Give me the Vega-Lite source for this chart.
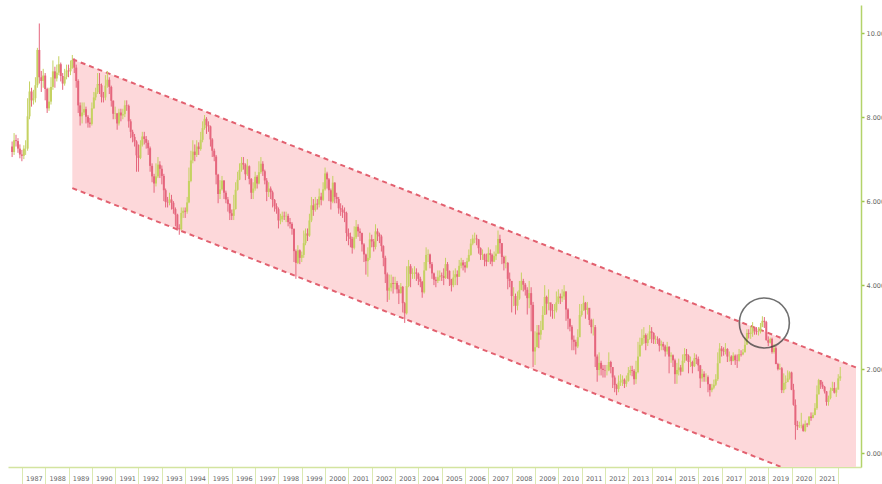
{
  "$schema": "https://vega.github.io/schema/vega-lite/v6.json",
  "width": 853,
  "height": 462,
  "padding": {"left": 8, "top": 5, "right": 21, "bottom": 17},
  "autosize": {"type": "none"},
  "background": "#ffffff",
  "config": {"view": {"stroke": null}, "font": "DejaVu Sans"},
  "datasets": {
    "ohlc": [
      {"d":"1986-08","o":7.30,"h":7.42,"l":7.05,"c":7.17},
      {"d":"1986-09","o":7.17,"h":7.62,"l":7.10,"c":7.45},
      {"d":"1986-10","o":7.45,"h":7.58,"l":7.30,"c":7.43},
      {"d":"1986-11","o":7.43,"h":7.50,"l":7.15,"c":7.25},
      {"d":"1986-12","o":7.25,"h":7.35,"l":7.02,"c":7.11},
      {"d":"1987-01","o":7.11,"h":7.22,"l":6.95,"c":7.08},
      {"d":"1987-02","o":7.08,"h":7.33,"l":7.00,"c":7.25},
      {"d":"1987-03","o":7.25,"h":7.45,"l":7.10,"c":7.25},
      {"d":"1987-04","o":7.25,"h":8.45,"l":7.20,"c":8.02},
      {"d":"1987-05","o":8.02,"h":8.85,"l":7.95,"c":8.61},
      {"d":"1987-06","o":8.61,"h":8.70,"l":8.25,"c":8.40},
      {"d":"1987-07","o":8.40,"h":8.65,"l":8.30,"c":8.45},
      {"d":"1987-08","o":8.45,"h":8.95,"l":8.35,"c":8.76},
      {"d":"1987-09","o":8.76,"h":9.65,"l":8.70,"c":9.60},
      {"d":"1987-10","o":9.60,"h":10.23,"l":8.80,"c":8.95},
      {"d":"1987-11","o":8.95,"h":9.10,"l":8.60,"c":8.86},
      {"d":"1987-12","o":8.86,"h":9.15,"l":8.70,"c":8.99},
      {"d":"1988-01","o":8.99,"h":9.05,"l":8.40,"c":8.67},
      {"d":"1988-02","o":8.67,"h":8.70,"l":8.10,"c":8.21},
      {"d":"1988-03","o":8.21,"h":8.70,"l":8.15,"c":8.37},
      {"d":"1988-04","o":8.37,"h":8.95,"l":8.30,"c":8.72},
      {"d":"1988-05","o":8.72,"h":9.35,"l":8.65,"c":9.09},
      {"d":"1988-06","o":9.09,"h":9.20,"l":8.70,"c":8.92},
      {"d":"1988-07","o":8.92,"h":9.25,"l":8.85,"c":9.06},
      {"d":"1988-08","o":9.06,"h":9.45,"l":9.00,"c":9.26},
      {"d":"1988-09","o":9.26,"h":9.30,"l":8.85,"c":8.98},
      {"d":"1988-10","o":8.98,"h":9.05,"l":8.65,"c":8.80},
      {"d":"1988-11","o":8.80,"h":9.15,"l":8.75,"c":8.96},
      {"d":"1988-12","o":8.96,"h":9.25,"l":8.90,"c":9.11},
      {"d":"1989-01","o":9.11,"h":9.25,"l":8.95,"c":9.09},
      {"d":"1989-02","o":9.09,"h":9.35,"l":9.00,"c":9.17},
      {"d":"1989-03","o":9.17,"h":9.48,"l":9.15,"c":9.36},
      {"d":"1989-04","o":9.36,"h":9.40,"l":9.05,"c":9.18},
      {"d":"1989-05","o":9.18,"h":9.25,"l":8.70,"c":8.86},
      {"d":"1989-06","o":8.86,"h":8.90,"l":8.10,"c":8.28},
      {"d":"1989-07","o":8.28,"h":8.35,"l":7.80,"c":8.02},
      {"d":"1989-08","o":8.02,"h":8.35,"l":7.85,"c":8.11},
      {"d":"1989-09","o":8.11,"h":8.35,"l":8.05,"c":8.19},
      {"d":"1989-10","o":8.19,"h":8.25,"l":7.85,"c":8.01},
      {"d":"1989-11","o":8.01,"h":8.05,"l":7.75,"c":7.87},
      {"d":"1989-12","o":7.87,"h":7.98,"l":7.75,"c":7.84},
      {"d":"1990-01","o":7.84,"h":8.35,"l":7.80,"c":8.21},
      {"d":"1990-02","o":8.21,"h":8.60,"l":8.20,"c":8.47},
      {"d":"1990-03","o":8.47,"h":8.70,"l":8.40,"c":8.59},
      {"d":"1990-04","o":8.59,"h":9.05,"l":8.55,"c":8.79},
      {"d":"1990-05","o":8.79,"h":9.05,"l":8.55,"c":8.76},
      {"d":"1990-06","o":8.76,"h":8.80,"l":8.35,"c":8.48},
      {"d":"1990-07","o":8.48,"h":8.60,"l":8.35,"c":8.47},
      {"d":"1990-08","o":8.47,"h":9.00,"l":8.40,"c":8.75},
      {"d":"1990-09","o":8.75,"h":9.10,"l":8.70,"c":8.89},
      {"d":"1990-10","o":8.89,"h":8.95,"l":8.55,"c":8.72},
      {"d":"1990-11","o":8.72,"h":8.75,"l":8.25,"c":8.39},
      {"d":"1990-12","o":8.39,"h":8.40,"l":7.95,"c":8.08},
      {"d":"1991-01","o":8.08,"h":8.25,"l":7.95,"c":8.09},
      {"d":"1991-02","o":8.09,"h":8.10,"l":7.70,"c":7.85},
      {"d":"1991-03","o":7.85,"h":8.20,"l":7.80,"c":8.11},
      {"d":"1991-04","o":8.11,"h":8.20,"l":7.90,"c":8.04},
      {"d":"1991-05","o":8.04,"h":8.20,"l":7.95,"c":8.07},
      {"d":"1991-06","o":8.07,"h":8.40,"l":8.00,"c":8.28},
      {"d":"1991-07","o":8.28,"h":8.40,"l":8.15,"c":8.27},
      {"d":"1991-08","o":8.27,"h":8.30,"l":7.75,"c":7.90},
      {"d":"1991-09","o":7.90,"h":7.95,"l":7.50,"c":7.65},
      {"d":"1991-10","o":7.65,"h":7.70,"l":7.40,"c":7.53},
      {"d":"1991-11","o":7.53,"h":7.60,"l":7.30,"c":7.42},
      {"d":"1991-12","o":7.42,"h":7.45,"l":6.70,"c":7.09},
      {"d":"1992-01","o":7.09,"h":7.35,"l":6.70,"c":7.03},
      {"d":"1992-02","o":7.03,"h":7.45,"l":7.00,"c":7.34},
      {"d":"1992-03","o":7.34,"h":7.65,"l":7.30,"c":7.54},
      {"d":"1992-04","o":7.54,"h":7.65,"l":7.35,"c":7.48},
      {"d":"1992-05","o":7.48,"h":7.55,"l":7.25,"c":7.39},
      {"d":"1992-06","o":7.39,"h":7.45,"l":7.10,"c":7.26},
      {"d":"1992-07","o":7.26,"h":7.30,"l":6.70,"c":6.84},
      {"d":"1992-08","o":6.84,"h":6.90,"l":6.45,"c":6.59},
      {"d":"1992-09","o":6.59,"h":6.65,"l":6.20,"c":6.42},
      {"d":"1992-10","o":6.42,"h":6.90,"l":6.35,"c":6.59},
      {"d":"1992-11","o":6.59,"h":7.05,"l":6.55,"c":6.87},
      {"d":"1992-12","o":6.87,"h":6.95,"l":6.55,"c":6.77},
      {"d":"1993-01","o":6.77,"h":6.85,"l":6.40,"c":6.60},
      {"d":"1993-02","o":6.60,"h":6.65,"l":6.00,"c":6.26},
      {"d":"1993-03","o":6.26,"h":6.30,"l":5.85,"c":5.98},
      {"d":"1993-04","o":5.98,"h":6.10,"l":5.85,"c":5.97},
      {"d":"1993-05","o":5.97,"h":6.20,"l":5.90,"c":6.04},
      {"d":"1993-06","o":6.04,"h":6.15,"l":5.80,"c":5.96},
      {"d":"1993-07","o":5.96,"h":6.00,"l":5.70,"c":5.81},
      {"d":"1993-08","o":5.81,"h":5.85,"l":5.40,"c":5.68},
      {"d":"1993-09","o":5.68,"h":5.70,"l":5.30,"c":5.36},
      {"d":"1993-10","o":5.36,"h":5.45,"l":5.20,"c":5.33},
      {"d":"1993-11","o":5.33,"h":5.85,"l":5.30,"c":5.72},
      {"d":"1993-12","o":5.72,"h":5.85,"l":5.60,"c":5.77},
      {"d":"1994-01","o":5.77,"h":5.85,"l":5.60,"c":5.75},
      {"d":"1994-02","o":5.75,"h":6.10,"l":5.70,"c":5.97},
      {"d":"1994-03","o":5.97,"h":6.80,"l":5.95,"c":6.48},
      {"d":"1994-04","o":6.48,"h":7.20,"l":6.45,"c":6.97},
      {"d":"1994-05","o":6.97,"h":7.45,"l":6.90,"c":7.18},
      {"d":"1994-06","o":7.18,"h":7.35,"l":6.95,"c":7.10},
      {"d":"1994-07","o":7.10,"h":7.45,"l":7.05,"c":7.30},
      {"d":"1994-08","o":7.30,"h":7.40,"l":7.10,"c":7.24},
      {"d":"1994-09","o":7.24,"h":7.65,"l":7.20,"c":7.46},
      {"d":"1994-10","o":7.46,"h":7.90,"l":7.40,"c":7.74},
      {"d":"1994-11","o":7.74,"h":8.05,"l":7.70,"c":7.96},
      {"d":"1994-12","o":7.96,"h":8.00,"l":7.60,"c":7.81},
      {"d":"1995-01","o":7.81,"h":7.90,"l":7.65,"c":7.78},
      {"d":"1995-02","o":7.78,"h":7.80,"l":7.30,"c":7.47},
      {"d":"1995-03","o":7.47,"h":7.50,"l":7.05,"c":7.20},
      {"d":"1995-04","o":7.20,"h":7.25,"l":6.95,"c":7.06},
      {"d":"1995-05","o":7.06,"h":7.10,"l":6.40,"c":6.63},
      {"d":"1995-06","o":6.63,"h":6.65,"l":5.95,"c":6.17},
      {"d":"1995-07","o":6.17,"h":6.50,"l":6.05,"c":6.28},
      {"d":"1995-08","o":6.28,"h":6.60,"l":6.25,"c":6.49},
      {"d":"1995-09","o":6.49,"h":6.50,"l":6.05,"c":6.20},
      {"d":"1995-10","o":6.20,"h":6.25,"l":5.95,"c":6.04},
      {"d":"1995-11","o":6.04,"h":6.10,"l":5.75,"c":5.93},
      {"d":"1995-12","o":5.93,"h":5.95,"l":5.55,"c":5.71},
      {"d":"1996-01","o":5.71,"h":5.80,"l":5.55,"c":5.65},
      {"d":"1996-02","o":5.65,"h":6.15,"l":5.55,"c":5.81},
      {"d":"1996-03","o":5.81,"h":6.45,"l":5.80,"c":6.27},
      {"d":"1996-04","o":6.27,"h":6.70,"l":6.25,"c":6.51},
      {"d":"1996-05","o":6.51,"h":6.90,"l":6.50,"c":6.74},
      {"d":"1996-06","o":6.74,"h":7.05,"l":6.70,"c":6.91},
      {"d":"1996-07","o":6.91,"h":7.05,"l":6.75,"c":6.87},
      {"d":"1996-08","o":6.87,"h":6.90,"l":6.50,"c":6.64},
      {"d":"1996-09","o":6.64,"h":7.00,"l":6.60,"c":6.83},
      {"d":"1996-10","o":6.83,"h":6.85,"l":6.40,"c":6.53},
      {"d":"1996-11","o":6.53,"h":6.55,"l":6.05,"c":6.20},
      {"d":"1996-12","o":6.20,"h":6.45,"l":6.05,"c":6.30},
      {"d":"1997-01","o":6.30,"h":6.70,"l":6.25,"c":6.58},
      {"d":"1997-02","o":6.58,"h":6.62,"l":6.30,"c":6.42},
      {"d":"1997-03","o":6.42,"h":6.95,"l":6.40,"c":6.69},
      {"d":"1997-04","o":6.69,"h":7.05,"l":6.65,"c":6.89},
      {"d":"1997-05","o":6.89,"h":6.95,"l":6.60,"c":6.71},
      {"d":"1997-06","o":6.71,"h":6.75,"l":6.40,"c":6.49},
      {"d":"1997-07","o":6.49,"h":6.55,"l":6.00,"c":6.22},
      {"d":"1997-08","o":6.22,"h":6.45,"l":6.10,"c":6.30},
      {"d":"1997-09","o":6.30,"h":6.35,"l":6.05,"c":6.21},
      {"d":"1997-10","o":6.21,"h":6.25,"l":5.85,"c":6.03},
      {"d":"1997-11","o":6.03,"h":6.05,"l":5.75,"c":5.88},
      {"d":"1997-12","o":5.88,"h":5.95,"l":5.70,"c":5.81},
      {"d":"1998-01","o":5.81,"h":5.85,"l":5.35,"c":5.54},
      {"d":"1998-02","o":5.54,"h":5.70,"l":5.45,"c":5.57},
      {"d":"1998-03","o":5.57,"h":5.75,"l":5.50,"c":5.65},
      {"d":"1998-04","o":5.65,"h":5.75,"l":5.55,"c":5.64},
      {"d":"1998-05","o":5.64,"h":5.75,"l":5.50,"c":5.65},
      {"d":"1998-06","o":5.65,"h":5.70,"l":5.40,"c":5.50},
      {"d":"1998-07","o":5.50,"h":5.60,"l":5.35,"c":5.46},
      {"d":"1998-08","o":5.46,"h":5.50,"l":5.20,"c":5.34},
      {"d":"1998-09","o":5.34,"h":5.35,"l":4.55,"c":4.81},
      {"d":"1998-10","o":4.81,"h":4.85,"l":4.15,"c":4.53},
      {"d":"1998-11","o":4.53,"h":4.95,"l":4.50,"c":4.83},
      {"d":"1998-12","o":4.83,"h":4.85,"l":4.50,"c":4.65},
      {"d":"1999-01","o":4.65,"h":4.80,"l":4.55,"c":4.72},
      {"d":"1999-02","o":4.72,"h":5.30,"l":4.65,"c":5.00},
      {"d":"1999-03","o":5.00,"h":5.35,"l":4.95,"c":5.23},
      {"d":"1999-04","o":5.23,"h":5.35,"l":5.05,"c":5.18},
      {"d":"1999-05","o":5.18,"h":5.70,"l":5.15,"c":5.54},
      {"d":"1999-06","o":5.54,"h":6.10,"l":5.50,"c":5.90},
      {"d":"1999-07","o":5.90,"h":6.05,"l":5.65,"c":5.79},
      {"d":"1999-08","o":5.79,"h":6.10,"l":5.75,"c":5.94},
      {"d":"1999-09","o":5.94,"h":6.05,"l":5.80,"c":5.92},
      {"d":"1999-10","o":5.92,"h":6.30,"l":5.85,"c":6.11},
      {"d":"1999-11","o":6.11,"h":6.20,"l":5.90,"c":6.03},
      {"d":"1999-12","o":6.03,"h":6.45,"l":6.00,"c":6.28},
      {"d":"2000-01","o":6.28,"h":6.80,"l":6.25,"c":6.66},
      {"d":"2000-02","o":6.66,"h":6.70,"l":6.30,"c":6.52},
      {"d":"2000-03","o":6.52,"h":6.55,"l":6.00,"c":6.26},
      {"d":"2000-04","o":6.26,"h":6.30,"l":5.80,"c":5.99},
      {"d":"2000-05","o":5.99,"h":6.60,"l":5.95,"c":6.44},
      {"d":"2000-06","o":6.44,"h":6.45,"l":5.95,"c":6.10},
      {"d":"2000-07","o":6.10,"h":6.20,"l":5.95,"c":6.05},
      {"d":"2000-08","o":6.05,"h":6.10,"l":5.70,"c":5.83},
      {"d":"2000-09","o":5.83,"h":5.95,"l":5.65,"c":5.80},
      {"d":"2000-10","o":5.80,"h":5.90,"l":5.60,"c":5.74},
      {"d":"2000-11","o":5.74,"h":5.85,"l":5.50,"c":5.72},
      {"d":"2000-12","o":5.72,"h":5.75,"l":5.05,"c":5.24},
      {"d":"2001-01","o":5.24,"h":5.35,"l":4.95,"c":5.16},
      {"d":"2001-02","o":5.16,"h":5.25,"l":4.90,"c":5.10},
      {"d":"2001-03","o":5.10,"h":5.15,"l":4.75,"c":4.89},
      {"d":"2001-04","o":4.89,"h":5.40,"l":4.85,"c":5.14},
      {"d":"2001-05","o":5.14,"h":5.55,"l":5.10,"c":5.39},
      {"d":"2001-06","o":5.39,"h":5.45,"l":5.15,"c":5.28},
      {"d":"2001-07","o":5.28,"h":5.35,"l":5.05,"c":5.24},
      {"d":"2001-08","o":5.24,"h":5.25,"l":4.80,"c":4.97},
      {"d":"2001-09","o":4.97,"h":5.00,"l":4.55,"c":4.73},
      {"d":"2001-10","o":4.73,"h":4.75,"l":4.25,"c":4.57},
      {"d":"2001-11","o":4.57,"h":4.90,"l":4.20,"c":4.65},
      {"d":"2001-12","o":4.65,"h":5.25,"l":4.60,"c":5.09},
      {"d":"2002-01","o":5.09,"h":5.20,"l":4.90,"c":5.04},
      {"d":"2002-02","o":5.04,"h":5.10,"l":4.80,"c":4.91},
      {"d":"2002-03","o":4.91,"h":5.45,"l":4.85,"c":5.28},
      {"d":"2002-04","o":5.28,"h":5.35,"l":5.05,"c":5.21},
      {"d":"2002-05","o":5.21,"h":5.25,"l":5.00,"c":5.16},
      {"d":"2002-06","o":5.16,"h":5.20,"l":4.80,"c":4.93},
      {"d":"2002-07","o":4.93,"h":4.95,"l":4.45,"c":4.65},
      {"d":"2002-08","o":4.65,"h":4.70,"l":4.05,"c":4.26},
      {"d":"2002-09","o":4.26,"h":4.30,"l":3.60,"c":3.87},
      {"d":"2002-10","o":3.87,"h":4.25,"l":3.65,"c":3.94},
      {"d":"2002-11","o":3.94,"h":4.25,"l":3.85,"c":4.05},
      {"d":"2002-12","o":4.05,"h":4.20,"l":3.80,"c":4.03},
      {"d":"2003-01","o":4.03,"h":4.20,"l":3.90,"c":4.05},
      {"d":"2003-02","o":4.05,"h":4.10,"l":3.80,"c":3.90},
      {"d":"2003-03","o":3.90,"h":4.00,"l":3.55,"c":3.81},
      {"d":"2003-04","o":3.81,"h":4.05,"l":3.80,"c":3.96},
      {"d":"2003-05","o":3.96,"h":3.98,"l":3.35,"c":3.57},
      {"d":"2003-06","o":3.57,"h":3.60,"l":3.10,"c":3.33},
      {"d":"2003-07","o":3.33,"h":4.45,"l":3.30,"c":3.98},
      {"d":"2003-08","o":3.98,"h":4.60,"l":3.95,"c":4.45},
      {"d":"2003-09","o":4.45,"h":4.50,"l":3.95,"c":4.27},
      {"d":"2003-10","o":4.27,"h":4.40,"l":4.15,"c":4.29},
      {"d":"2003-11","o":4.29,"h":4.45,"l":4.15,"c":4.30},
      {"d":"2003-12","o":4.30,"h":4.40,"l":4.10,"c":4.27},
      {"d":"2004-01","o":4.27,"h":4.30,"l":4.00,"c":4.15},
      {"d":"2004-02","o":4.15,"h":4.20,"l":3.95,"c":4.08},
      {"d":"2004-03","o":4.08,"h":4.10,"l":3.70,"c":3.83},
      {"d":"2004-04","o":3.83,"h":4.55,"l":3.80,"c":4.35},
      {"d":"2004-05","o":4.35,"h":4.90,"l":4.35,"c":4.72},
      {"d":"2004-06","o":4.72,"h":4.85,"l":4.55,"c":4.73},
      {"d":"2004-07","o":4.73,"h":4.75,"l":4.40,"c":4.50},
      {"d":"2004-08","o":4.50,"h":4.55,"l":4.15,"c":4.28},
      {"d":"2004-09","o":4.28,"h":4.30,"l":4.00,"c":4.13},
      {"d":"2004-10","o":4.13,"h":4.20,"l":3.95,"c":4.10},
      {"d":"2004-11","o":4.10,"h":4.35,"l":4.05,"c":4.19},
      {"d":"2004-12","o":4.19,"h":4.35,"l":4.10,"c":4.23},
      {"d":"2005-01","o":4.23,"h":4.30,"l":4.10,"c":4.22},
      {"d":"2005-02","o":4.22,"h":4.40,"l":4.00,"c":4.17},
      {"d":"2005-03","o":4.17,"h":4.65,"l":4.15,"c":4.50},
      {"d":"2005-04","o":4.50,"h":4.55,"l":4.15,"c":4.34},
      {"d":"2005-05","o":4.34,"h":4.35,"l":3.98,"c":4.14},
      {"d":"2005-06","o":4.14,"h":4.15,"l":3.85,"c":4.00},
      {"d":"2005-07","o":4.00,"h":4.35,"l":3.95,"c":4.18},
      {"d":"2005-08","o":4.18,"h":4.40,"l":4.00,"c":4.26},
      {"d":"2005-09","o":4.26,"h":4.35,"l":4.00,"c":4.20},
      {"d":"2005-10","o":4.20,"h":4.60,"l":4.20,"c":4.46},
      {"d":"2005-11","o":4.46,"h":4.65,"l":4.40,"c":4.54},
      {"d":"2005-12","o":4.54,"h":4.60,"l":4.35,"c":4.47},
      {"d":"2006-01","o":4.47,"h":4.55,"l":4.30,"c":4.42},
      {"d":"2006-02","o":4.42,"h":4.65,"l":4.40,"c":4.57},
      {"d":"2006-03","o":4.57,"h":4.85,"l":4.55,"c":4.72},
      {"d":"2006-04","o":4.72,"h":5.10,"l":4.70,"c":4.99},
      {"d":"2006-05","o":4.99,"h":5.20,"l":4.95,"c":5.11},
      {"d":"2006-06","o":5.11,"h":5.25,"l":5.00,"c":5.11},
      {"d":"2006-07","o":5.11,"h":5.20,"l":4.95,"c":5.09},
      {"d":"2006-08","o":5.09,"h":5.10,"l":4.75,"c":4.88},
      {"d":"2006-09","o":4.88,"h":4.90,"l":4.60,"c":4.72},
      {"d":"2006-10","o":4.72,"h":4.85,"l":4.60,"c":4.73},
      {"d":"2006-11","o":4.73,"h":4.75,"l":4.45,"c":4.60},
      {"d":"2006-12","o":4.60,"h":4.75,"l":4.45,"c":4.56},
      {"d":"2007-01","o":4.56,"h":4.90,"l":4.55,"c":4.76},
      {"d":"2007-02","o":4.76,"h":4.85,"l":4.50,"c":4.72},
      {"d":"2007-03","o":4.72,"h":4.75,"l":4.45,"c":4.56},
      {"d":"2007-04","o":4.56,"h":4.80,"l":4.55,"c":4.69},
      {"d":"2007-05","o":4.69,"h":4.95,"l":4.60,"c":4.75},
      {"d":"2007-06","o":4.75,"h":5.30,"l":4.75,"c":5.10},
      {"d":"2007-07","o":5.10,"h":5.20,"l":4.75,"c":5.00},
      {"d":"2007-08","o":5.00,"h":5.00,"l":4.50,"c":4.67},
      {"d":"2007-09","o":4.67,"h":4.70,"l":4.35,"c":4.52},
      {"d":"2007-10","o":4.52,"h":4.70,"l":4.40,"c":4.53},
      {"d":"2007-11","o":4.53,"h":4.55,"l":3.90,"c":4.15},
      {"d":"2007-12","o":4.15,"h":4.30,"l":3.95,"c":4.10},
      {"d":"2008-01","o":4.10,"h":4.10,"l":3.35,"c":3.74},
      {"d":"2008-02","o":3.74,"h":3.95,"l":3.50,"c":3.74},
      {"d":"2008-03","o":3.74,"h":3.80,"l":3.30,"c":3.51},
      {"d":"2008-04","o":3.51,"h":3.85,"l":3.40,"c":3.68},
      {"d":"2008-05","o":3.68,"h":4.10,"l":3.65,"c":3.88},
      {"d":"2008-06","o":3.88,"h":4.30,"l":3.90,"c":4.10},
      {"d":"2008-07","o":4.10,"h":4.15,"l":3.85,"c":4.01},
      {"d":"2008-08","o":4.01,"h":4.05,"l":3.75,"c":3.89},
      {"d":"2008-09","o":3.89,"h":3.95,"l":3.30,"c":3.69},
      {"d":"2008-10","o":3.69,"h":4.10,"l":3.45,"c":3.81},
      {"d":"2008-11","o":3.81,"h":3.95,"l":2.90,"c":3.53},
      {"d":"2008-12","o":3.53,"h":3.60,"l":2.05,"c":2.42},
      {"d":"2009-01","o":2.42,"h":2.90,"l":2.10,"c":2.52},
      {"d":"2009-02","o":2.52,"h":3.05,"l":2.60,"c":2.87},
      {"d":"2009-03","o":2.87,"h":3.05,"l":2.50,"c":2.82},
      {"d":"2009-04","o":2.82,"h":3.15,"l":2.70,"c":2.93},
      {"d":"2009-05","o":2.93,"h":3.50,"l":2.95,"c":3.29},
      {"d":"2009-06","o":3.29,"h":4.00,"l":3.45,"c":3.72},
      {"d":"2009-07","o":3.72,"h":3.75,"l":3.30,"c":3.56},
      {"d":"2009-08","o":3.56,"h":3.90,"l":3.40,"c":3.59},
      {"d":"2009-09","o":3.59,"h":3.55,"l":3.25,"c":3.40},
      {"d":"2009-10","o":3.40,"h":3.55,"l":3.20,"c":3.39},
      {"d":"2009-11","o":3.39,"h":3.55,"l":3.20,"c":3.40},
      {"d":"2009-12","o":3.40,"h":3.85,"l":3.35,"c":3.59},
      {"d":"2010-01","o":3.59,"h":3.90,"l":3.55,"c":3.73},
      {"d":"2010-02","o":3.73,"h":3.80,"l":3.55,"c":3.69},
      {"d":"2010-03","o":3.69,"h":3.90,"l":3.60,"c":3.73},
      {"d":"2010-04","o":3.73,"h":4.00,"l":3.65,"c":3.85},
      {"d":"2010-05","o":3.85,"h":3.85,"l":3.15,"c":3.42},
      {"d":"2010-06","o":3.42,"h":3.45,"l":2.95,"c":3.20},
      {"d":"2010-07","o":3.20,"h":3.20,"l":2.90,"c":3.01},
      {"d":"2010-08","o":3.01,"h":3.05,"l":2.45,"c":2.70},
      {"d":"2010-09","o":2.70,"h":2.80,"l":2.45,"c":2.65},
      {"d":"2010-10","o":2.65,"h":2.70,"l":2.35,"c":2.54},
      {"d":"2010-11","o":2.54,"h":2.95,"l":2.50,"c":2.76},
      {"d":"2010-12","o":2.76,"h":3.55,"l":2.80,"c":3.29},
      {"d":"2011-01","o":3.29,"h":3.55,"l":3.25,"c":3.39},
      {"d":"2011-02","o":3.39,"h":3.75,"l":3.40,"c":3.58},
      {"d":"2011-03","o":3.58,"h":3.60,"l":3.20,"c":3.41},
      {"d":"2011-04","o":3.41,"h":3.60,"l":3.30,"c":3.46},
      {"d":"2011-05","o":3.46,"h":3.45,"l":3.05,"c":3.17},
      {"d":"2011-06","o":3.17,"h":3.20,"l":2.85,"c":3.00},
      {"d":"2011-07","o":3.00,"h":3.20,"l":2.80,"c":3.00},
      {"d":"2011-08","o":3.00,"h":3.05,"l":2.05,"c":2.30},
      {"d":"2011-09","o":2.30,"h":2.35,"l":1.70,"c":1.98},
      {"d":"2011-10","o":1.98,"h":2.40,"l":1.85,"c":2.15},
      {"d":"2011-11","o":2.15,"h":2.20,"l":1.85,"c":2.01},
      {"d":"2011-12","o":2.01,"h":2.10,"l":1.80,"c":1.98},
      {"d":"2012-01","o":1.98,"h":2.10,"l":1.80,"c":1.97},
      {"d":"2012-02","o":1.97,"h":2.10,"l":1.85,"c":1.97},
      {"d":"2012-03","o":1.97,"h":2.40,"l":1.95,"c":2.17},
      {"d":"2012-04","o":2.17,"h":2.20,"l":1.90,"c":2.05},
      {"d":"2012-05","o":2.05,"h":2.05,"l":1.55,"c":1.80},
      {"d":"2012-06","o":1.80,"h":1.85,"l":1.45,"c":1.62},
      {"d":"2012-07","o":1.62,"h":1.65,"l":1.38,"c":1.53},
      {"d":"2012-08","o":1.53,"h":1.85,"l":1.45,"c":1.68},
      {"d":"2012-09","o":1.68,"h":1.88,"l":1.60,"c":1.72},
      {"d":"2012-10","o":1.72,"h":1.85,"l":1.60,"c":1.75},
      {"d":"2012-11","o":1.75,"h":1.78,"l":1.55,"c":1.65},
      {"d":"2012-12","o":1.65,"h":1.85,"l":1.58,"c":1.72},
      {"d":"2013-01","o":1.72,"h":2.05,"l":1.70,"c":1.91},
      {"d":"2013-02","o":1.91,"h":2.08,"l":1.85,"c":1.98},
      {"d":"2013-03","o":1.98,"h":2.08,"l":1.83,"c":1.96},
      {"d":"2013-04","o":1.96,"h":2.00,"l":1.63,"c":1.76},
      {"d":"2013-05","o":1.76,"h":2.20,"l":1.65,"c":1.93},
      {"d":"2013-06","o":1.93,"h":2.65,"l":1.90,"c":2.30},
      {"d":"2013-07","o":2.30,"h":2.75,"l":2.35,"c":2.58},
      {"d":"2013-08","o":2.58,"h":2.95,"l":2.55,"c":2.74},
      {"d":"2013-09","o":2.74,"h":3.00,"l":2.60,"c":2.81},
      {"d":"2013-10","o":2.81,"h":2.85,"l":2.45,"c":2.62},
      {"d":"2013-11","o":2.62,"h":2.85,"l":2.55,"c":2.72},
      {"d":"2013-12","o":2.72,"h":3.05,"l":2.70,"c":2.90},
      {"d":"2014-01","o":2.90,"h":3.00,"l":2.62,"c":2.86},
      {"d":"2014-02","o":2.86,"h":2.88,"l":2.60,"c":2.71},
      {"d":"2014-03","o":2.71,"h":2.80,"l":2.60,"c":2.72},
      {"d":"2014-04","o":2.72,"h":2.78,"l":2.60,"c":2.71},
      {"d":"2014-05","o":2.71,"h":2.74,"l":2.42,"c":2.56},
      {"d":"2014-06","o":2.56,"h":2.68,"l":2.45,"c":2.60},
      {"d":"2014-07","o":2.60,"h":2.65,"l":2.45,"c":2.54},
      {"d":"2014-08","o":2.54,"h":2.58,"l":2.30,"c":2.42},
      {"d":"2014-09","o":2.42,"h":2.65,"l":2.35,"c":2.53},
      {"d":"2014-10","o":2.53,"h":2.55,"l":1.90,"c":2.30},
      {"d":"2014-11","o":2.30,"h":2.40,"l":2.15,"c":2.33},
      {"d":"2014-12","o":2.33,"h":2.35,"l":2.05,"c":2.21},
      {"d":"2015-01","o":2.21,"h":2.25,"l":1.65,"c":1.88},
      {"d":"2015-02","o":1.88,"h":2.15,"l":1.65,"c":1.98},
      {"d":"2015-03","o":1.98,"h":2.25,"l":1.85,"c":2.04},
      {"d":"2015-04","o":2.04,"h":2.10,"l":1.85,"c":1.94},
      {"d":"2015-05","o":1.94,"h":2.35,"l":1.95,"c":2.20},
      {"d":"2015-06","o":2.20,"h":2.50,"l":2.15,"c":2.36},
      {"d":"2015-07","o":2.36,"h":2.48,"l":2.20,"c":2.32},
      {"d":"2015-08","o":2.32,"h":2.35,"l":1.90,"c":2.17},
      {"d":"2015-09","o":2.17,"h":2.30,"l":2.05,"c":2.17},
      {"d":"2015-10","o":2.17,"h":2.20,"l":1.90,"c":2.07},
      {"d":"2015-11","o":2.07,"h":2.38,"l":2.05,"c":2.26},
      {"d":"2015-12","o":2.26,"h":2.35,"l":2.12,"c":2.24},
      {"d":"2016-01","o":2.24,"h":2.30,"l":1.95,"c":2.09},
      {"d":"2016-02","o":2.09,"h":2.10,"l":1.55,"c":1.78},
      {"d":"2016-03","o":1.78,"h":2.00,"l":1.70,"c":1.89},
      {"d":"2016-04","o":1.89,"h":1.95,"l":1.70,"c":1.81},
      {"d":"2016-05","o":1.81,"h":1.90,"l":1.70,"c":1.81},
      {"d":"2016-06","o":1.81,"h":1.85,"l":1.45,"c":1.64},
      {"d":"2016-07","o":1.64,"h":1.65,"l":1.35,"c":1.50},
      {"d":"2016-08","o":1.50,"h":1.65,"l":1.45,"c":1.56},
      {"d":"2016-09","o":1.56,"h":1.75,"l":1.52,"c":1.63},
      {"d":"2016-10","o":1.63,"h":1.88,"l":1.60,"c":1.76},
      {"d":"2016-11","o":1.76,"h":2.40,"l":1.72,"c":2.14},
      {"d":"2016-12","o":2.14,"h":2.62,"l":2.30,"c":2.49},
      {"d":"2017-01","o":2.49,"h":2.55,"l":2.30,"c":2.43},
      {"d":"2017-02","o":2.43,"h":2.52,"l":2.32,"c":2.42},
      {"d":"2017-03","o":2.42,"h":2.62,"l":2.35,"c":2.48},
      {"d":"2017-04","o":2.48,"h":2.50,"l":2.17,"c":2.30},
      {"d":"2017-05","o":2.30,"h":2.42,"l":2.18,"c":2.30},
      {"d":"2017-06","o":2.30,"h":2.33,"l":2.10,"c":2.19},
      {"d":"2017-07","o":2.19,"h":2.40,"l":2.22,"c":2.32},
      {"d":"2017-08","o":2.32,"h":2.35,"l":2.10,"c":2.21},
      {"d":"2017-09","o":2.21,"h":2.35,"l":2.03,"c":2.20},
      {"d":"2017-10","o":2.20,"h":2.48,"l":2.18,"c":2.36},
      {"d":"2017-11","o":2.36,"h":2.45,"l":2.30,"c":2.35},
      {"d":"2017-12","o":2.35,"h":2.48,"l":2.33,"c":2.40},
      {"d":"2018-01","o":2.40,"h":2.75,"l":2.40,"c":2.58},
      {"d":"2018-02","o":2.58,"h":2.95,"l":2.70,"c":2.86},
      {"d":"2018-03","o":2.86,"h":2.95,"l":2.73,"c":2.84},
      {"d":"2018-04","o":2.84,"h":3.03,"l":2.72,"c":2.87},
      {"d":"2018-05","o":2.87,"h":3.12,"l":2.77,"c":2.98},
      {"d":"2018-06","o":2.98,"h":3.00,"l":2.82,"c":2.91},
      {"d":"2018-07","o":2.91,"h":3.00,"l":2.82,"c":2.89},
      {"d":"2018-08","o":2.89,"h":3.00,"l":2.80,"c":2.89},
      {"d":"2018-09","o":2.89,"h":3.10,"l":2.85,"c":3.00},
      {"d":"2018-10","o":3.00,"h":3.26,"l":3.05,"c":3.15},
      {"d":"2018-11","o":3.15,"h":3.24,"l":2.98,"c":3.12},
      {"d":"2018-12","o":3.12,"h":3.15,"l":2.68,"c":2.69},
      {"d":"2019-01","o":2.69,"h":2.78,"l":2.55,"c":2.63},
      {"d":"2019-02","o":2.63,"h":2.75,"l":2.61,"c":2.72},
      {"d":"2019-03","o":2.72,"h":2.75,"l":2.37,"c":2.41},
      {"d":"2019-04","o":2.41,"h":2.60,"l":2.37,"c":2.50},
      {"d":"2019-05","o":2.50,"h":2.55,"l":2.12,"c":2.12},
      {"d":"2019-06","o":2.12,"h":2.15,"l":1.97,"c":2.00},
      {"d":"2019-07","o":2.00,"h":2.13,"l":1.98,"c":2.02},
      {"d":"2019-08","o":2.02,"h":2.05,"l":1.43,"c":1.50},
      {"d":"2019-09","o":1.50,"h":1.90,"l":1.43,"c":1.67},
      {"d":"2019-10","o":1.67,"h":1.85,"l":1.52,"c":1.69},
      {"d":"2019-11","o":1.69,"h":1.97,"l":1.70,"c":1.78},
      {"d":"2019-12","o":1.78,"h":1.95,"l":1.75,"c":1.92},
      {"d":"2020-01","o":1.92,"h":1.94,"l":1.50,"c":1.51},
      {"d":"2020-02","o":1.51,"h":1.65,"l":1.13,"c":1.15},
      {"d":"2020-03","o":1.15,"h":1.28,"l":0.32,"c":0.67},
      {"d":"2020-04","o":0.67,"h":0.77,"l":0.55,"c":0.64},
      {"d":"2020-05","o":0.64,"h":0.75,"l":0.60,"c":0.65},
      {"d":"2020-06","o":0.65,"h":0.96,"l":0.59,"c":0.66},
      {"d":"2020-07","o":0.66,"h":0.70,"l":0.51,"c":0.53},
      {"d":"2020-08","o":0.53,"h":0.78,"l":0.50,"c":0.70},
      {"d":"2020-09","o":0.70,"h":0.72,"l":0.62,"c":0.68},
      {"d":"2020-10","o":0.68,"h":0.88,"l":0.66,"c":0.87},
      {"d":"2020-11","o":0.87,"h":0.97,"l":0.77,"c":0.84},
      {"d":"2020-12","o":0.84,"h":0.97,"l":0.83,"c":0.91},
      {"d":"2021-01","o":0.91,"h":1.19,"l":0.90,"c":1.07},
      {"d":"2021-02","o":1.07,"h":1.61,"l":1.03,"c":1.40},
      {"d":"2021-03","o":1.40,"h":1.77,"l":1.40,"c":1.74},
      {"d":"2021-04","o":1.74,"h":1.74,"l":1.53,"c":1.63},
      {"d":"2021-05","o":1.63,"h":1.70,"l":1.53,"c":1.58},
      {"d":"2021-06","o":1.58,"h":1.60,"l":1.42,"c":1.47},
      {"d":"2021-07","o":1.47,"h":1.48,"l":1.13,"c":1.22},
      {"d":"2021-08","o":1.22,"h":1.37,"l":1.13,"c":1.31},
      {"d":"2021-09","o":1.31,"h":1.56,"l":1.28,"c":1.49},
      {"d":"2021-10","o":1.49,"h":1.70,"l":1.48,"c":1.55},
      {"d":"2021-11","o":1.55,"h":1.69,"l":1.42,"c":1.44},
      {"d":"2021-12","o":1.44,"h":1.56,"l":1.34,"c":1.51},
      {"d":"2022-01","o":1.51,"h":1.88,"l":1.63,"c":1.78},
      {"d":"2022-02","o":1.78,"h":2.05,"l":1.72,"c":1.83}
    ],
    "channel": [
      {"d": "1989-03-01", "upper": 9.38, "lower": 6.31},
      {"d": "2022-10-06", "upper": 2.04, "lower": -1.03}
    ],
    "marker": [{"d": "2018-11-01", "v": 3.1}],
    "band": [{"top": 10.67, "bottom": 10.4}],
    "minor": [{"v": 1}, {"v": 3}, {"v": 5}, {"v": 7}, {"v": 9}]
  },
  "layer": [
    {
      "data": {"name": "band"},
      "mark": {"type": "rect", "clip": true, "fill": {"gradient": "linear", "x1": 0, "y1": 0, "x2": 0, "y2": 1, "stops": [{"offset": 0, "color": "#dcdcdc"}, {"offset": 1, "color": "#ffffff"}]}},
      "encoding": {
        "y": {"field": "top", "type": "quantitative"},
        "y2": {"field": "bottom"}
      }
    },
    {
      "data": {"name": "channel"},
      "mark": {"type": "area", "clip": true, "color": "#fdd8da", "opacity": 1},
      "encoding": {
        "x": {"field": "d", "type": "temporal"},
        "y": {"field": "upper", "type": "quantitative"},
        "y2": {"field": "lower"}
      }
    },
    {
      "data": {"name": "channel"},
      "mark": {"type": "line", "clip": true, "color": "#e2606f", "strokeWidth": 2, "strokeDash": [5, 4]},
      "encoding": {
        "x": {"field": "d", "type": "temporal"},
        "y": {"field": "upper", "type": "quantitative"}
      }
    },
    {
      "data": {"name": "channel"},
      "mark": {"type": "line", "clip": true, "color": "#e2606f", "strokeWidth": 2, "strokeDash": [5, 4]},
      "encoding": {
        "x": {"field": "d", "type": "temporal"},
        "y": {"field": "lower", "type": "quantitative"}
      }
    },
    {
      "data": {"name": "ohlc"},
      "mark": {"type": "rule", "clip": true, "strokeWidth": 1},
      "encoding": {
        "x": {"field": "d", "type": "temporal"},
        "y": {"field": "l", "type": "quantitative"},
        "y2": {"field": "h"},
        "color": {"condition": {"test": "datum.c >= datum.o", "value": "#c5d262"}, "value": "#e5667d"}
      }
    },
    {
      "data": {"name": "ohlc"},
      "mark": {"type": "bar", "clip": true, "size": 2},
      "encoding": {
        "x": {"field": "d", "type": "temporal"},
        "y": {"field": "o", "type": "quantitative"},
        "y2": {"field": "c"},
        "color": {"condition": {"test": "datum.c >= datum.o", "value": "#c5d262"}, "value": "#e5667d"}
      }
    },
    {
      "data": {"name": "marker"},
      "mark": {"type": "point", "shape": "circle", "filled": false, "size": 2500, "stroke": "#333333", "strokeWidth": 1.6},
      "encoding": {
        "x": {"field": "d", "type": "temporal"},
        "y": {"field": "v", "type": "quantitative"}
      }
    },
    {
      "data": {"name": "minor"},
      "mark": {"type": "tick", "orient": "horizontal", "color": "#b3d36a", "size": 3, "thickness": 1, "xOffset": 1.5},
      "encoding": {
        "x": {"datum": "2022-10-06", "type": "temporal"},
        "y": {"field": "v", "type": "quantitative"}
      }
    }
  ],
  "resolve": {"scale": {"x": "shared", "y": "shared"}},
  "encoding": {
    "x": {
      "field": "d",
      "type": "temporal",
      "scale": {"domain": ["1986-08-15", "2022-10-06"]},
      "axis": {
        "title": null,
        "orient": "bottom",
        "grid": false,
        "tickCount": {"interval": "year", "step": 1},
        "domainColor": "#d3e4a0",
        "domainWidth": 1.5,
        "tickColor": "#dbe9b2",
        "tickSize": 17,
        "tickWidth": 1,
        "labelFontSize": 6.5,
        "labelColor": "#666666",
        "labelOffset": 12,
        "labelPadding": -9,
        "labelAlign": "center",
        "labelFlush": false,
        "labelOverlap": false,
        "labelExpr": "year(datum.value) > 2021 ? '' : timeFormat(datum.value, '%Y')"
      }
    },
    "y": {
      "type": "quantitative",
      "scale": {"domain": [-0.33, 10.67], "nice": false, "zero": false},
      "axis": {
        "title": null,
        "orient": "right",
        "grid": false,
        "values": [0, 2, 4, 6, 8, 10],
        "format": ".3f",
        "domainColor": "#b3d36a",
        "domainWidth": 1.5,
        "tickColor": "#9cc44a",
        "tickSize": 3,
        "tickWidth": 1.5,
        "labelFontSize": 6.5,
        "labelColor": "#666666",
        "labelPadding": 2
      }
    }
  }
}
